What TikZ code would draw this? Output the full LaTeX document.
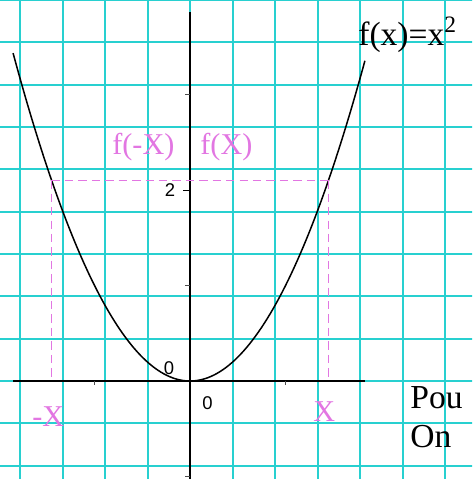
\documentclass[tikz,border=0pt]{standalone}
\usepackage{fontspec}
\setmainfont{Liberation Serif}
\setsansfont{Liberation Sans}
\definecolor{gridcyan}{RGB}{40,208,208}
\definecolor{labelpink}{RGB}{226,118,226}

\begin{document}
\begin{tikzpicture}[scale=2,
    gridline/.style={gridcyan, line width=1.2pt},
    axisline/.style={black, line width=1.1pt},
    tickmark/.style={black!70, line width=0.6pt},
    guide/.style={labelpink, dash pattern=on 5pt off 3pt, line width=0.6pt},
    pinklabel/.style={labelpink, font=\fontsize{18}{20}\selectfont, anchor=base west, inner sep=0pt},
    bigtext/.style={black, font=\fontsize{20}{22}\selectfont, anchor=base west, inner sep=0pt},
    numlabel/.style={black, font=\sffamily\fontsize{11}{12}\selectfont, inner sep=0pt}]

    % Frame of the picture
    \useasboundingbox (-1.990,-1.026) rectangle (2.953,3.990);
    \clip (-1.990,-1.026) rectangle (2.953,3.990);
    \fill[white] (-1.990,-1.026) rectangle (2.953,3.990);

    % Grid paper
    \foreach \i in {-5,...,7}
        \draw[gridline] (0.445*\i,-1.2) -- (0.445*\i,4.2);
    \foreach \j in {-3,...,9}
        \draw[gridline] (-2.1,0.4435*\j) -- (3.1,0.4435*\j);

    % Axes
    \draw[axisline] (-1.853,0) -- (1.832,0);
    \draw[black, line width=0.9pt] (0,-1.1) -- (0,3.864);
    \foreach \y in {-1,1,3}
        \draw[tickmark] (-0.05,\y) -- (0,\y);
    \foreach \x in {-1,1}
        \draw[tickmark] (\x,0) -- (\x,-0.04);
    \draw[black, line width=0.6pt] (-0.07,2) -- (0,2);

    % Plot x^2
    \draw[black, line width=0.9pt, domain=-1.853:1.832, samples=120]
        plot (\x, {\x*\x});

    % f(-x) and f(x) marks
    \coordinate (fminus) at (-1.45,2.1025);
    \coordinate (fplus) at (1.45,2.1025);
    \coordinate (xminus) at (-1.45,0);
    \coordinate (xplus) at (1.45,0);
    \draw[guide] (fminus) -- (fplus);
    \draw[guide] (fminus) -- (xminus);
    \draw[guide] (fplus) -- (xplus);

    % Labels
    \node[bigtext] (title) at (1.759,3.518) {f(x)=x\textsuperscript{2}};
    \node[pinklabel] (fmx) at (-0.817,2.367) {f(-X)};
    \node[pinklabel] (fpx) at (0.105,2.367) {f(X)};
    \node[pinklabel] (mx) at (-1.654,-0.48) {-X};
    \node[pinklabel] (px) at (1.288,-0.429) {X};
    \node[numlabel] (two) at (-0.209,2.0) {2};
    \node[numlabel] (zeroa) at (-0.22,0.13) {0};
    \node[numlabel] (zerob) at (0.183,-0.236) {0};
    \node[bigtext] (pour) at (2.304,-0.283) {Pou};
    \node[bigtext] (on) at (2.304,-0.691) {On};

\end{tikzpicture}
\end{document}
